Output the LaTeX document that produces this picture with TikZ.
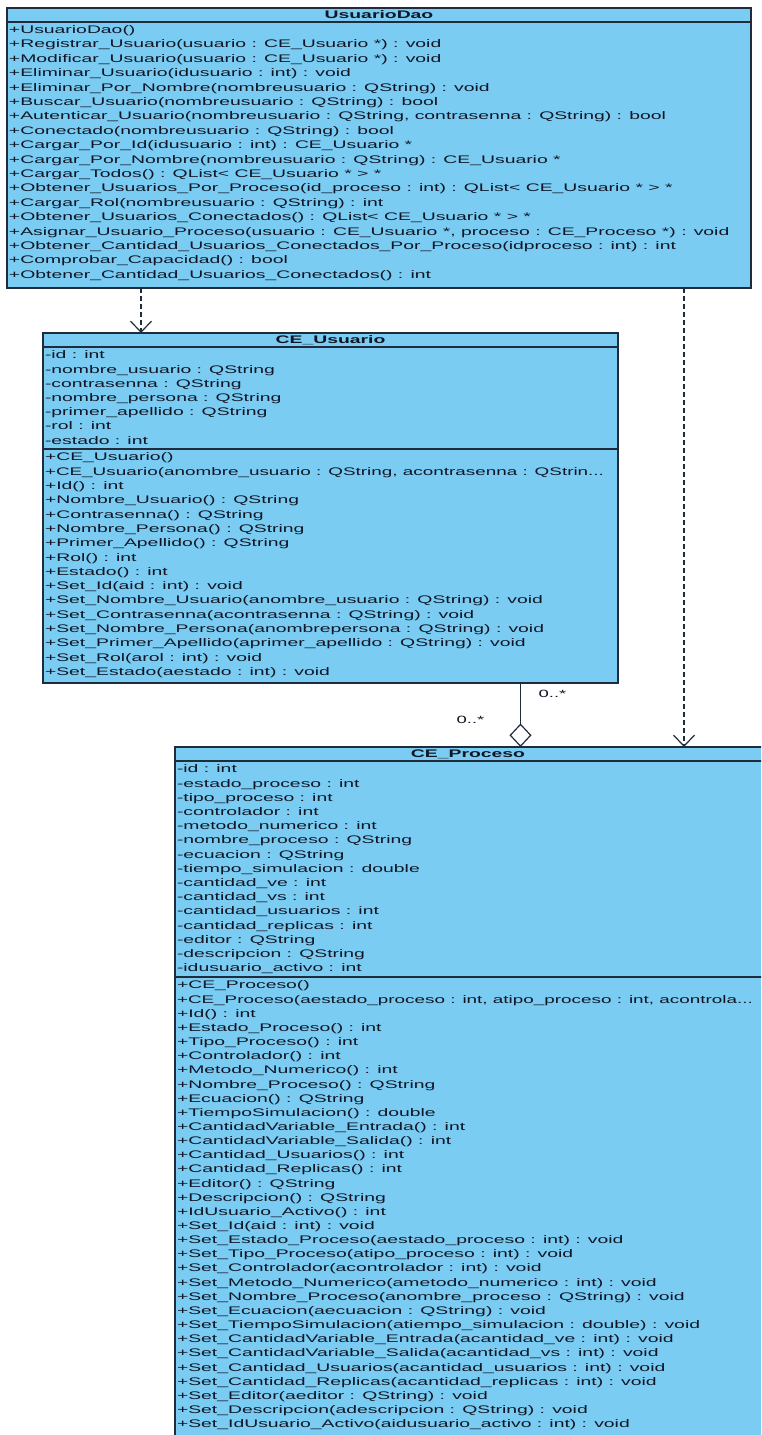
\documentclass[tikz,border=0pt]{standalone}
\usepackage{fontspec}
\setmainfont{Liberation Sans}[FakeStretch=1.76]
\usetikzlibrary{arrows.meta}

\definecolor{classfill}{RGB}{122,204,242}
\definecolor{classline}{RGB}{32,44,60}
\definecolor{classtext}{RGB}{16,22,38}

% ellipsis shown where a signature is cut by the compartment width
\newcommand{\moreargs}{...}
% slightly narrowed text for signatures that fill the whole compartment
\newcommand{\snug}[1]{\scalebox{0.975}[1]{#1}}

\tikzset{
  classbox/.style={draw=classline, line width=1.3pt, fill=classfill,
    anchor=north west, inner sep=0pt, outer sep=0pt},
  member/.style={anchor=west, inner sep=0pt, outer sep=0pt,
    text height=7.9pt, text depth=0pt, text=classtext,
    font=\fontsize{11}{13}\selectfont},
  classname/.style={member, anchor=center,
    font=\fontsize{11}{13}\selectfont\bfseries},
  divider/.style={draw=classline, line width=1.1pt},
  depline/.style={draw=classline, line width=1.2pt, dash pattern=on 4.5pt off 3.5pt,
    -{Straight Barb[length=11pt, width=21pt, line width=1.2pt]}},
  aggline/.style={draw=classline, line width=1.2pt,
    -{Diamond[open, length=23.5pt, width=22pt, line width=1.2pt]}},
  multlabel/.style={inner sep=0pt, text=classtext, font=\fontsize{10.5}{12}\selectfont}
}

\begin{document}
\begin{tikzpicture}[x=1pt, y=-1pt]
\useasboundingbox (0,0) rectangle (761,1435);
\clip (0,0) rectangle (761,1435);

% ---------------- UsuarioDao ----------------
\node[classbox, minimum width=744pt, minimum height=280pt] (dao) at (7,8) {};
\node[classname] (daoT) at ([yshift=-7pt]dao.north) {UsuarioDao};
\draw[divider] ([yshift=-14pt]dao.north west) -- ([yshift=-14pt]dao.north east);
\foreach \t [count=\i] in {
  {+UsuarioDao()},
  {+Registrar\_Usuario(usuario : CE\_Usuario *) : void},
  {+Modificar\_Usuario(usuario : CE\_Usuario *) : void},
  {+Eliminar\_Usuario(idusuario : int) : void},
  {+Eliminar\_Por\_Nombre(nombreusuario : QString) : void},
  {+Buscar\_Usuario(nombreusuario : QString) : bool},
  {+Autenticar\_Usuario(nombreusuario : QString, contrasenna : QString) : bool},
  {+Conectado(nombreusuario : QString) : bool},
  {+Cargar\_Por\_Id(idusuario : int) : CE\_Usuario *},
  {+Cargar\_Por\_Nombre(nombreusuario : QString) : CE\_Usuario *},
  {+Cargar\_Todos() : QList< CE\_Usuario * > *},
  {+Obtener\_Usuarios\_Por\_Proceso(id\_proceso : int) : QList< CE\_Usuario * > *},
  {+Cargar\_Rol(nombreusuario : QString) : int},
  {+Obtener\_Usuarios\_Conectados() : QList< CE\_Usuario * > *},
  {+Asignar\_Usuario\_Proceso(usuario : CE\_Usuario *, proceso : CE\_Proceso *) : void},
  {+Obtener\_Cantidad\_Usuarios\_Conectados\_Por\_Proceso(idproceso : int) : int},
  {+Comprobar\_Capacidad() : bool},
  {+Obtener\_Cantidad\_Usuarios\_Conectados() : int}}
  \node[member] (dao-m\i) at (9,{29.5+14.4*(\i-1)}) {\t};

% ---------------- CE_Usuario ----------------
\node[classbox, minimum width=575pt, minimum height=350pt] (usr) at (43,333) {};
\node[classname] (usrT) at ([yshift=-7pt]usr.north) {CE\_Usuario};
\draw[divider] ([yshift=-14pt]usr.north west) -- ([yshift=-14pt]usr.north east);
\draw[divider] ([yshift=-116pt]usr.north west) -- ([yshift=-116pt]usr.north east);
\foreach \t [count=\i] in {
  {-id : int},
  {-nombre\_usuario : QString},
  {-contrasenna : QString},
  {-nombre\_persona : QString},
  {-primer\_apellido : QString},
  {-rol : int},
  {-estado : int}}
  \node[member] (usr-a\i) at (45,{355+14.2*(\i-1)}) {\t};
\foreach \t [count=\i] in {
  {+CE\_Usuario()},
  {\snug{+CE\_Usuario(anombre\_usuario : QString, acontrasenna : QStrin\moreargs}},
  {+Id() : int},
  {+Nombre\_Usuario() : QString},
  {+Contrasenna() : QString},
  {+Nombre\_Persona() : QString},
  {+Primer\_Apellido() : QString},
  {+Rol() : int},
  {+Estado() : int},
  {+Set\_Id(aid : int) : void},
  {+Set\_Nombre\_Usuario(anombre\_usuario : QString) : void},
  {+Set\_Contrasenna(acontrasenna : QString) : void},
  {+Set\_Nombre\_Persona(anombrepersona : QString) : void},
  {+Set\_Primer\_Apellido(aprimer\_apellido : QString) : void},
  {+Set\_Rol(arol : int) : void},
  {+Set\_Estado(aestado : int) : void}}
  \node[member] (usr-m\i) at (45,{457+14.3*(\i-1)}) {\t};

% ---------------- CE_Proceso ----------------
\node[classbox, minimum width=610pt, minimum height=713pt] (proc) at (175,747) {};
\node[classname] (procT) at (468,754) {CE\_Proceso};
\draw[divider] ([yshift=-14pt]proc.north west) -- ([yshift=-14pt]proc.north east);
\draw[divider] ([yshift=-230pt]proc.north west) -- ([yshift=-230pt]proc.north east);
\foreach \t [count=\i] in {
  {-id : int},
  {-estado\_proceso : int},
  {-tipo\_proceso : int},
  {-controlador : int},
  {-metodo\_numerico : int},
  {-nombre\_proceso : QString},
  {-ecuacion : QString},
  {-tiempo\_simulacion : double},
  {-cantidad\_ve : int},
  {-cantidad\_vs : int},
  {-cantidad\_usuarios : int},
  {-cantidad\_replicas : int},
  {-editor : QString},
  {-descripcion : QString},
  {-idusuario\_activo : int}}
  \node[member] (proc-a\i) at (177,{769+14.2*(\i-1)}) {\t};
\foreach \t [count=\i] in {
  {+CE\_Proceso()},
  {\snug{+CE\_Proceso(aestado\_proceso : int, atipo\_proceso : int, acontrola\moreargs}},
  {+Id() : int},
  {+Estado\_Proceso() : int},
  {+Tipo\_Proceso() : int},
  {+Controlador() : int},
  {+Metodo\_Numerico() : int},
  {+Nombre\_Proceso() : QString},
  {+Ecuacion() : QString},
  {+TiempoSimulacion() : double},
  {+CantidadVariable\_Entrada() : int},
  {+CantidadVariable\_Salida() : int},
  {+Cantidad\_Usuarios() : int},
  {+Cantidad\_Replicas() : int},
  {+Editor() : QString},
  {+Descripcion() : QString},
  {+IdUsuario\_Activo() : int},
  {+Set\_Id(aid : int) : void},
  {+Set\_Estado\_Proceso(aestado\_proceso : int) : void},
  {+Set\_Tipo\_Proceso(atipo\_proceso : int) : void},
  {+Set\_Controlador(acontrolador : int) : void},
  {+Set\_Metodo\_Numerico(ametodo\_numerico : int) : void},
  {+Set\_Nombre\_Proceso(anombre\_proceso : QString) : void},
  {+Set\_Ecuacion(aecuacion : QString) : void},
  {+Set\_TiempoSimulacion(atiempo\_simulacion : double) : void},
  {+Set\_CantidadVariable\_Entrada(acantidad\_ve : int) : void},
  {+Set\_CantidadVariable\_Salida(acantidad\_vs : int) : void},
  {+Set\_Cantidad\_Usuarios(acantidad\_usuarios : int) : void},
  {+Set\_Cantidad\_Replicas(acantidad\_replicas : int) : void},
  {+Set\_Editor(aeditor : QString) : void},
  {+Set\_Descripcion(adescripcion : QString) : void},
  {+Set\_IdUsuario\_Activo(aidusuario\_activo : int) : void}}
  \node[member] (proc-m\i) at (177,{985+14.15*(\i-1)}) {\t};

% ---------------- relations ----------------
\coordinate (depA) at (141,0);
\coordinate (depB) at (684,0);
\coordinate (aggX) at (520.5,0);
\draw[depline] (dao.south -| depA) -- (usr.north -| depA);
\draw[depline] (dao.south -| depB) -- (proc.north -| depB);
\draw[aggline] (usr.south -| aggX) -- (proc.north -| aggX);
\node[multlabel] (multUsr) at (552.5,694) {0..*};
\node[multlabel] (multProc) at (470.5,720) {0..*};
\end{tikzpicture}
\end{document}
